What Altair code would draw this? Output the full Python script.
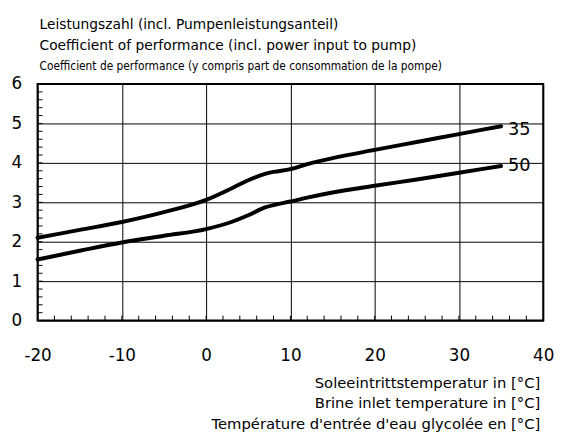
import altair as alt
import pandas as pd

temps = [-20, -15, -10, -5, 0, 3, 5, 7, 8, 10, 12, 15, 20, 25, 30, 35]
cop35 = [2.1, 2.3, 2.5, 2.75, 3.06, 3.35, 3.56, 3.72, 3.77, 3.84, 3.97, 4.12, 4.33, 4.53, 4.73, 4.93]
cop50 = [1.55, 1.77, 1.98, 2.15, 2.32, 2.5, 2.67, 2.87, 2.93, 3.02, 3.12, 3.25, 3.42, 3.58, 3.75, 3.92]
series_names = ["35", "50"]

x_ticks = [-20, -10, 0, 10, 20, 30, 40]
y_ticks = [0, 1, 2, 3, 4, 5, 6]
x_minor = [v for v in range(-18, 40, 2)]
y_minor = [round(v * 0.2, 1) for v in range(1, 30)]

title_lines = [
    "Leistungszahl (incl. Pumpenleistungsanteil)",
    "Coefficient of performance (incl. power input to pump)",
    "Coefficient de performance (y compris part de consommation de la pompe)",
]
xtitle_lines = [
    "Soleeintrittstemperatur in [°C]",
    "Brine inlet temperature in [°C]",
    "Température d'entrée d'eau glycolée en [°C]",
]

FONT = "DejaVu Sans"

rows = []
for t, a, b in zip(temps, cop35, cop50):
    rows.append({"t": t, "cop": a, "s": series_names[0]})
    rows.append({"t": t, "cop": b, "s": series_names[1]})
df = pd.DataFrame(rows)

xs = alt.Scale(domain=[-20, 40], nice=False)
ys = alt.Scale(domain=[0, 6], nice=False)

ax_x = alt.Axis(values=x_ticks, tickSize=0, labelFontSize=17, labelFont=FONT,
                labelColor="black", labelPadding=28, domain=False, grid=True,
                gridColor="black", gridWidth=1, gridOpacity=1, title=None,
                labelFlush=False, labelOverlap=False, labelExpr="'' + datum.value")
ax_y = alt.Axis(values=y_ticks, tickSize=0, labelFontSize=17, labelFont=FONT,
                labelColor="black", labelPadding=16, domain=False, grid=True,
                gridColor="black", gridWidth=1, gridOpacity=1, title=None,
                labelFlush=False, labelOverlap=False, labelExpr="'' + datum.value")

X = lambda f: alt.X(f, scale=xs, axis=ax_x)
Y = lambda f: alt.Y(f, scale=ys, axis=ax_y)

lines = alt.Chart(df).mark_line(color="black", strokeWidth=4, strokeCap="round",
                                interpolate="monotone").encode(
    x=X("t:Q"), y=Y("cop:Q"), detail="s:N")

ends = pd.DataFrame({"t": [temps[-1], temps[-1]], "cop": [cop35[-1], cop50[-1]], "s": series_names})
label35 = alt.Chart(ends.iloc[:1]).mark_text(align="left", baseline="middle", dx=7, dy=4,
                                             fontSize=18, font=FONT, color="black").encode(
    x=X("t:Q"), y=Y("cop:Q"), text="s:N")
label50 = alt.Chart(ends.iloc[1:]).mark_text(align="left", baseline="middle", dx=7, dy=0,
                                             fontSize=18, font=FONT, color="black").encode(
    x=X("t:Q"), y=Y("cop:Q"), text="s:N")

xm = alt.Chart(pd.DataFrame({"t": x_minor})).mark_rule(color="black", strokeWidth=1).encode(
    x=X("t:Q"), y=alt.value(240), y2=alt.value(235))
ym = alt.Chart(pd.DataFrame({"v": y_minor})).mark_rule(color="black", strokeWidth=1).encode(
    y=Y("v:Q"), x=alt.value(0), x2=alt.value(5))

tdf = pd.DataFrame({"txt": title_lines, "yy": [-60, -39, -18]})
titles1 = alt.Chart(tdf.iloc[:2]).mark_text(align="left", baseline="middle", font=FONT,
                                            fontSize=14, color="black").encode(
    x=alt.value(2), y=alt.Y("yy:Q", scale=None), text="txt:N")
titles2 = alt.Chart(tdf.iloc[2:]).mark_text(align="left", baseline="middle",
                                            font="DejaVu Sans Condensed",
                                            fontSize=12, color="black").encode(
    x=alt.value(2), y=alt.Y("yy:Q", scale=None), text="txt:N")

xdf = pd.DataFrame({"txt": xtitle_lines, "yy": [303, 324, 345]})
xtitles = alt.Chart(xdf).mark_text(align="right", baseline="middle", font=FONT,
                                   fontSize=15, color="black").encode(
    x=alt.value(510), y=alt.Y("yy:Q", scale=None), text="txt:N")

chart = alt.layer(lines, xm, ym, label35, label50, titles1, titles2, xtitles).properties(
    width=513, height=240,
    autosize=alt.AutoSizeParams(type="none"),
    padding={"left": 30, "top": 74, "right": 14, "bottom": 116},
    background="white",
).configure_view(stroke="black", strokeWidth=2)

chart.save("out.html", embed_options={"renderer": "svg", "actions": False})
